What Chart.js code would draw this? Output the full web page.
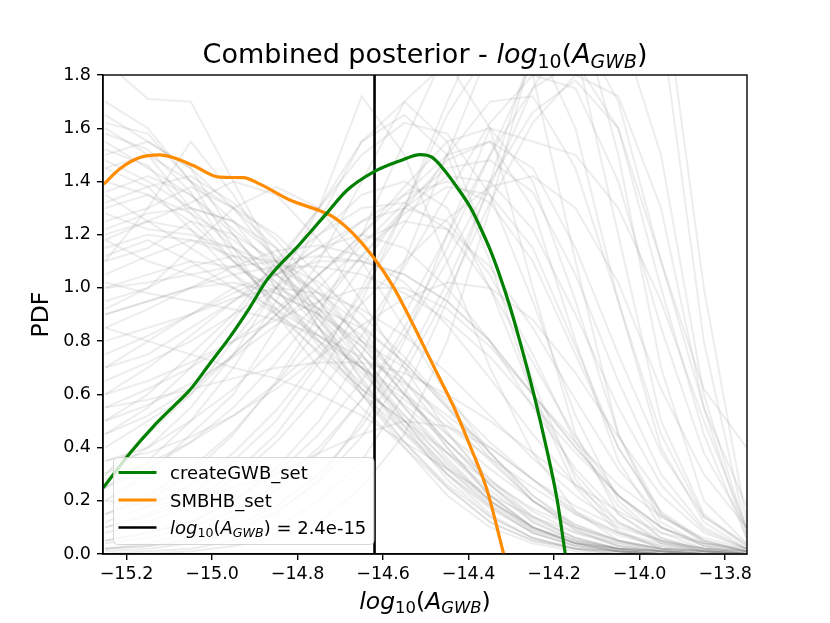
<!DOCTYPE html>
<html>
<head>
<meta charset="utf-8">
<script src="https://cdn.jsdelivr.net/npm/chart.js@4/dist/chart.umd.min.js"></script>
<style>
  html, body { margin: 0; padding: 0; background: #fff; }
  canvas { display: block; }
</style>
</head>
<body>
<canvas id="posterior" width="830" height="623"></canvas>
<script>
// x grid shared by the individual (gray) posteriors
const xGrid = [-15.25, -15.15, -15.05, -14.95, -14.85, -14.75, -14.65, -14.55,
               -14.45, -14.35, -14.25, -14.15, -14.05, -13.95, -13.85, -13.75];

// individual pulsar-set posteriors
const grayCurves = [
  [1.55, 1.45, 1.35, 1.20, 1.00, 0.80, 0.60, 0.42, 0.25, 0.12, 0.05, 0.02, 0.01, 0, 0, 0],
  [1.30, 1.35, 1.25, 1.10, 0.95, 0.85, 0.70, 0.50, 0.32, 0.18, 0.08, 0.03, 0.01, 0, 0, 0],
  [1.20, 1.25, 1.22, 1.10, 0.98, 0.90, 0.78, 0.60, 0.40, 0.22, 0.10, 0.04, 0.02, 0.01, 0, 0],
  [1.70, 1.60, 1.40, 1.15, 0.90, 0.70, 0.55, 0.40, 0.25, 0.12, 0.05, 0.02, 0, 0, 0, 0],
  [1.85, 1.71, 1.70, 1.40, 1.10, 0.85, 0.60, 0.40, 0.22, 0.10, 0.04, 0.01, 0, 0, 0, 0],
  [1.45, 1.50, 1.40, 1.30, 1.15, 0.95, 0.72, 0.50, 0.30, 0.15, 0.06, 0.02, 0.01, 0, 0, 0],
  [1.15, 1.20, 1.18, 1.12, 1.05, 0.95, 0.82, 0.65, 0.45, 0.28, 0.14, 0.06, 0.02, 0.01, 0, 0],
  [1.00, 1.05, 1.10, 1.08, 1.00, 0.92, 0.85, 0.72, 0.55, 0.36, 0.20, 0.09, 0.03, 0.01, 0, 0],
  [1.60, 1.50, 1.30, 1.25, 1.15, 0.90, 0.65, 0.45, 0.30, 0.18, 0.08, 0.03, 0.01, 0, 0, 0],
  [1.25, 1.30, 1.38, 1.30, 1.20, 1.05, 0.85, 0.62, 0.40, 0.22, 0.10, 0.04, 0.01, 0, 0, 0],
  [0.90, 0.95, 1.00, 1.02, 0.98, 0.90, 0.80, 0.70, 0.58, 0.42, 0.28, 0.15, 0.07, 0.03, 0.01, 0],
  [1.35, 1.25, 1.15, 1.05, 0.95, 0.82, 0.70, 0.56, 0.42, 0.28, 0.16, 0.08, 0.03, 0.01, 0, 0],
  [1.50, 1.55, 1.45, 1.20, 1.00, 0.78, 0.62, 0.50, 0.35, 0.20, 0.10, 0.04, 0.02, 0, 0, 0],
  [1.10, 1.15, 1.25, 1.20, 1.10, 0.98, 0.80, 0.65, 0.50, 0.35, 0.20, 0.10, 0.05, 0.02, 0.01, 0],
  [1.62, 1.58, 1.40, 1.25, 1.05, 0.92, 0.75, 0.55, 0.38, 0.22, 0.10, 0.04, 0.01, 0, 0, 0],
  [1.10, 1.30, 1.55, 1.35, 1.10, 0.85, 0.62, 0.42, 0.26, 0.14, 0.06, 0.02, 0, 0, 0, 0],
  [0.30, 0.45, 0.60, 0.80, 1.00, 1.20, 1.35, 1.40, 1.30, 1.00, 0.60, 0.30, 0.12, 0.04, 0.01, 0],
  [0.50, 0.60, 0.75, 0.90, 1.10, 1.30, 1.55, 1.65, 1.50, 1.10, 0.60, 0.25, 0.08, 0.02, 0, 0],
  [0.20, 0.30, 0.45, 0.60, 0.85, 1.10, 1.40, 1.70, 1.85, 1.60, 1.00, 0.45, 0.15, 0.04, 0.01, 0],
  [0.60, 0.70, 0.82, 0.95, 1.05, 1.15, 1.20, 1.15, 1.00, 0.80, 0.55, 0.32, 0.15, 0.05, 0.02, 0],
  [0.40, 0.50, 0.60, 0.75, 0.90, 1.05, 1.20, 1.35, 1.50, 1.55, 1.30, 0.80, 0.35, 0.10, 0.03, 0],
  [0.15, 0.20, 0.30, 0.45, 0.65, 0.90, 1.20, 1.55, 1.90, 2.10, 1.80, 1.10, 0.45, 0.12, 0.03, 0],
  [0.70, 0.80, 0.90, 1.00, 1.05, 1.10, 1.10, 1.05, 0.95, 0.80, 0.60, 0.40, 0.22, 0.10, 0.04, 0.01],
  [0.10, 0.15, 0.22, 0.35, 0.50, 0.72, 1.00, 1.30, 1.65, 1.90, 1.95, 1.60, 0.95, 0.40, 0.12, 0.02],
  [0.05, 0.08, 0.12, 0.20, 0.30, 0.45, 0.65, 0.90, 1.20, 1.50, 1.75, 1.85, 1.60, 1.00, 0.45, 0.06],
  [0.80, 0.85, 0.90, 0.98, 1.05, 1.15, 1.25, 1.30, 1.25, 1.05, 0.75, 0.42, 0.18, 0.06, 0.02, 0],
  [0.35, 0.40, 0.50, 0.62, 0.78, 0.95, 1.12, 1.28, 1.38, 1.35, 1.15, 0.78, 0.40, 0.15, 0.05, 0.01],
  [0.25, 0.35, 0.50, 0.70, 0.95, 1.25, 1.55, 1.70, 1.55, 1.15, 0.65, 0.28, 0.09, 0.02, 0, 0],
  [0.55, 0.62, 0.70, 0.80, 0.92, 1.05, 1.20, 1.38, 1.55, 1.60, 1.40, 0.95, 0.45, 0.15, 0.04, 0.01],
  [0.02, 0.04, 0.08, 0.14, 0.24, 0.38, 0.58, 0.85, 1.15, 1.50, 1.85, 2.10, 2.00, 1.50, 0.60, 0.08],
  [0.02, 0.03, 0.06, 0.10, 0.18, 0.30, 0.48, 0.72, 1.02, 1.38, 1.75, 2.00, 1.70, 1.10, 0.62, 0.40],
  [0.90, 0.95, 1.00, 1.05, 1.08, 1.08, 1.05, 0.98, 0.88, 0.74, 0.56, 0.38, 0.22, 0.10, 0.04, 0.01],
  [0.45, 0.55, 0.70, 0.88, 1.08, 1.30, 1.50, 1.62, 1.58, 1.35, 0.95, 0.52, 0.20, 0.06, 0.01, 0],
  [0.10, 0.14, 0.20, 0.30, 0.45, 0.66, 0.95, 1.30, 1.70, 2.05, 2.20, 1.90, 1.20, 0.50, 0.15, 0.03],
  [0.65, 0.72, 0.80, 0.90, 1.00, 1.12, 1.25, 1.35, 1.40, 1.32, 1.10, 0.75, 0.40, 0.16, 0.05, 0.01],
  [1.00, 1.02, 1.05, 1.08, 1.10, 1.12, 1.10, 1.05, 0.95, 0.80, 0.60, 0.40, 0.22, 0.10, 0.03, 0.01],
  [0.30, 0.40, 0.55, 0.75, 1.00, 1.30, 1.72, 1.50, 1.10, 0.70, 0.38, 0.16, 0.05, 0.01, 0, 0],
  [0.00, 0.01, 0.02, 0.05, 0.10, 0.20, 0.35, 0.60, 0.95, 1.40, 1.90, 2.40, 2.60, 2.00, 0.80, 0.08],
  [0.01, 0.02, 0.04, 0.08, 0.15, 0.28, 0.50, 0.80, 1.20, 1.60, 1.55, 1.50, 1.30, 0.95, 0.50, 0.10],
  [0.00, 0.00, 0.01, 0.03, 0.06, 0.12, 0.25, 0.45, 0.80, 1.30, 1.90, 2.50, 2.80, 2.20, 1.00, 0.12],
  [0.05, 0.08, 0.12, 0.20, 0.32, 0.50, 0.75, 1.10, 1.50, 1.90, 2.20, 2.10, 1.50, 0.70, 0.20, 0.04],
  [0.85, 0.80, 0.75, 0.70, 0.66, 0.60, 0.52, 0.42, 0.32, 0.22, 0.14, 0.08, 0.04, 0.02, 0.01, 0],
  [0.20, 0.18, 0.20, 0.25, 0.30, 0.38, 0.45, 0.50, 0.48, 0.40, 0.28, 0.16, 0.08, 0.03, 0.01, 0],
  [1.40, 1.35, 1.28, 1.18, 1.05, 0.90, 0.72, 0.52, 0.34, 0.20, 0.10, 0.05, 0.02, 0.01, 0, 0],
  [1.22, 1.28, 1.30, 1.25, 1.12, 0.95, 0.75, 0.55, 0.36, 0.20, 0.09, 0.04, 0.01, 0, 0, 0],
  [1.48, 1.40, 1.30, 1.15, 1.02, 0.88, 0.70, 0.48, 0.28, 0.14, 0.06, 0.02, 0.01, 0, 0, 0],
  [1.05, 1.12, 1.18, 1.15, 1.08, 0.98, 0.86, 0.72, 0.55, 0.38, 0.22, 0.11, 0.05, 0.02, 0.01, 0],
  [1.58, 1.52, 1.36, 1.12, 0.92, 0.75, 0.60, 0.46, 0.32, 0.19, 0.09, 0.04, 0.02, 0.01, 0, 0],
  [1.28, 1.22, 1.20, 1.15, 1.02, 0.85, 0.68, 0.52, 0.38, 0.24, 0.12, 0.05, 0.02, 0, 0, 0],
  [0.95, 1.00, 1.08, 1.12, 1.10, 1.02, 0.90, 0.74, 0.56, 0.38, 0.22, 0.10, 0.04, 0.01, 0, 0],
  [1.36, 1.42, 1.35, 1.22, 1.08, 0.92, 0.78, 0.60, 0.42, 0.26, 0.13, 0.06, 0.02, 0.01, 0, 0],
  [1.18, 1.10, 1.05, 1.00, 0.92, 0.82, 0.70, 0.58, 0.45, 0.32, 0.20, 0.11, 0.05, 0.02, 0.01, 0],
  [1.52, 1.46, 1.28, 1.10, 0.95, 0.80, 0.64, 0.48, 0.33, 0.20, 0.10, 0.04, 0.01, 0, 0, 0],
  [0.75, 0.82, 0.90, 0.96, 1.00, 0.98, 0.92, 0.82, 0.68, 0.52, 0.36, 0.22, 0.11, 0.05, 0.02, 0.01],
  [0.60, 0.65, 0.72, 0.80, 0.88, 0.95, 1.00, 1.00, 0.92, 0.78, 0.60, 0.42, 0.26, 0.14, 0.06, 0.02],
  [0.45, 0.52, 0.62, 0.75, 0.90, 1.05, 1.18, 1.25, 1.22, 1.08, 0.85, 0.58, 0.32, 0.14, 0.05, 0.01],
  [0.25, 0.32, 0.42, 0.55, 0.72, 0.92, 1.12, 1.30, 1.42, 1.40, 1.22, 0.90, 0.55, 0.26, 0.09, 0.02],
  [0.70, 0.75, 0.85, 0.95, 1.08, 1.20, 1.30, 1.32, 1.22, 1.00, 0.72, 0.44, 0.22, 0.08, 0.02, 0],
  [0.15, 0.22, 0.32, 0.46, 0.64, 0.85, 1.08, 1.30, 1.48, 1.55, 1.45, 1.15, 0.75, 0.38, 0.14, 0.04],
  [0.08, 0.12, 0.18, 0.28, 0.42, 0.60, 0.82, 1.08, 1.35, 1.62, 1.80, 1.75, 1.40, 0.85, 0.38, 0.10],
  [0.50, 0.56, 0.64, 0.74, 0.86, 1.00, 1.16, 1.32, 1.45, 1.48, 1.36, 1.05, 0.65, 0.30, 0.10, 0.02],
  [1.12, 1.18, 1.10, 1.00, 0.90, 0.80, 0.70, 0.60, 0.48, 0.36, 0.25, 0.15, 0.08, 0.04, 0.02, 0.01],
  [0.85, 0.92, 1.00, 1.08, 1.14, 1.16, 1.12, 1.02, 0.86, 0.66, 0.45, 0.26, 0.12, 0.05, 0.01, 0],
  [1.65, 1.55, 1.45, 1.30, 1.10, 0.88, 0.66, 0.46, 0.30, 0.17, 0.08, 0.03, 0.01, 0, 0, 0],
  [1.32, 1.38, 1.42, 1.32, 1.18, 1.00, 0.80, 0.60, 0.42, 0.26, 0.14, 0.06, 0.02, 0.01, 0, 0],
  [0.35, 0.38, 0.44, 0.52, 0.62, 0.74, 0.86, 0.96, 1.02, 1.00, 0.88, 0.68, 0.44, 0.22, 0.08, 0.02],
  [0.12, 0.18, 0.26, 0.38, 0.54, 0.74, 0.98, 1.24, 1.50, 1.70, 1.72, 1.45, 0.95, 0.45, 0.14, 0.03],
  [0.02, 0.03, 0.05, 0.09, 0.16, 0.27, 0.44, 0.68, 0.98, 1.32, 1.62, 1.80, 1.72, 1.30, 0.55, 0.06],
  [1.02, 0.98, 0.95, 0.92, 0.88, 0.82, 0.74, 0.64, 0.52, 0.40, 0.28, 0.18, 0.10, 0.05, 0.02, 0.01],
  [0.92, 1.00, 1.15, 1.30, 1.38, 1.30, 1.10, 0.85, 0.60, 0.38, 0.20, 0.09, 0.03, 0.01, 0, 0],
  [1.18, 1.25, 1.32, 1.40, 1.35, 1.18, 0.95, 0.70, 0.46, 0.26, 0.12, 0.05, 0.02, 0, 0, 0],
  [0.55, 0.58, 0.62, 0.66, 0.70, 0.72, 0.72, 0.68, 0.60, 0.50, 0.38, 0.26, 0.16, 0.08, 0.04, 0.02],
  [0.28, 0.34, 0.42, 0.52, 0.64, 0.78, 0.94, 1.10, 1.26, 1.38, 1.42, 1.30, 1.02, 0.62, 0.30, 0.10],
  [0.04, 0.06, 0.10, 0.16, 0.26, 0.40, 0.58, 0.82, 1.10, 1.40, 1.66, 1.78, 1.60, 1.10, 0.55, 0.18],
  [1.45, 1.38, 1.22, 1.05, 0.90, 0.76, 0.62, 0.50, 0.38, 0.27, 0.17, 0.10, 0.05, 0.02, 0.01, 0]
];

// combined posteriors
const gwbX = [-15.255, -15.192, -15.138, -15.083, -15.052, -15.005, -14.958, -14.911, -14.872,
              -14.794, -14.732, -14.685, -14.623, -14.560, -14.513, -14.486, -14.459, -14.427,
              -14.396, -14.373, -14.349, -14.326, -14.303, -14.283, -14.248, -14.217, -14.193,
              -14.174];
const gwbY = [0.248, 0.379, 0.478, 0.566, 0.616, 0.716, 0.816, 0.928, 1.029,
              1.166, 1.28, 1.366, 1.435, 1.478, 1.501, 1.491, 1.447, 1.378,
              1.303, 1.228, 1.141, 1.041, 0.928, 0.816, 0.604, 0.391, 0.204,
              0.0];

const smbhbX = [-15.253, -15.216, -15.169, -15.122, -15.091, -15.044, -14.982, -14.927, -14.888,
                -14.818, -14.748, -14.716, -14.670, -14.623, -14.576, -14.537, -14.474, -14.435,
                -14.396, -14.357, -14.318];
const smbhbY = [1.39, 1.447, 1.49, 1.50, 1.49, 1.46, 1.416, 1.414, 1.39,
                1.33, 1.29, 1.266, 1.204, 1.116, 1.004, 0.885, 0.68, 0.554,
                0.404, 0.241, 0.0];

// injected value: log10(2.4e-15)
const injectedLog10A = -14.62;

const xTicks = [-15.2, -15.0, -14.8, -14.6, -14.4, -14.2, -14.0, -13.8];
const yTicks = [0, 0.2, 0.4, 0.6, 0.8, 1.0, 1.2, 1.4, 1.6, 1.8];

const FONT = '"DejaVu Sans", sans-serif';
Chart.defaults.font.family = FONT;
Chart.defaults.color = '#000';

const pts = (xs, ys) => xs.map((x, i) => ({ x: x, y: ys[i] }));

const datasets = [
  { label: 'createGWB_set', data: pts(gwbX, gwbY), borderColor: 'green',
    borderWidth: 3.2, cubicInterpolationMode: 'monotone', order: 1 },
  { label: 'SMBHB_set', data: pts(smbhbX, smbhbY), borderColor: 'darkorange',
    borderWidth: 3.2, cubicInterpolationMode: 'monotone', order: 2 },
  { label: 'injected', data: [{ x: injectedLog10A, y: 0 }, { x: injectedLog10A, y: 1.8 }],
    borderColor: '#000', borderWidth: 2.6, order: 3 }
];
grayCurves.forEach((c, i) => {
  datasets.push({ label: 'psr' + i, data: pts(xGrid, c), borderColor: 'rgba(128,128,128,0.14)',
    borderWidth: 2, tension: 0, order: 10 });
});

// draw mixed regular / italic / subscript text like matplotlib mathtext
function richText(ctx, parts, x, y, size, align) {
  const fontOf = p => (p.i ? 'italic ' : '') + (p.s ? size * 0.7 : size) + 'px ' + FONT;
  let w = 0;
  parts.forEach(p => { ctx.font = fontOf(p); p.w = ctx.measureText(p.t).width; w += p.w; });
  let cx = align === 'center' ? x - w / 2 : x;
  ctx.textAlign = 'left';
  ctx.textBaseline = 'alphabetic';
  parts.forEach(p => {
    ctx.font = fontOf(p);
    ctx.fillText(p.t, cx, y + (p.s ? size * 0.17 : 0));
    cx += p.w;
  });
}
const mathA = () => [
  { t: 'log', i: true }, { t: '10', s: true }, { t: '(' },
  { t: 'A', i: true }, { t: 'GWB', i: true, s: true }, { t: ')' }
];

const decor = {
  id: 'decor',
  afterDraw(chart) {
    const ctx = chart.ctx;
    const a = chart.chartArea;
    ctx.save();
    // spines
    ctx.strokeStyle = '#000';
    ctx.lineWidth = 1.4;
    ctx.strokeRect(a.left, a.top, a.right - a.left, a.bottom - a.top);

    ctx.fillStyle = '#000';
    const cx = (a.left + a.right) / 2;
    richText(ctx, [{ t: 'Combined posterior - ' }].concat(mathA()), cx, 63, 27, 'center');
    richText(ctx, mathA(), cx, 609, 23.5, 'center');

    ctx.save();
    ctx.translate(42, (a.top + a.bottom) / 2);
    ctx.rotate(-Math.PI / 2);
    ctx.font = '23.5px ' + FONT;
    ctx.textAlign = 'center';
    ctx.textBaseline = 'middle';
    ctx.fillText('PDF', 0, 0);
    ctx.restore();

    // legend
    const lx = 113.5, ly = 457.5, lw = 260.5, lh = 87;
    ctx.beginPath();
    ctx.roundRect(lx, ly, lw, lh, 4);
    ctx.fillStyle = 'rgba(255,255,255,0.8)';
    ctx.fill();
    ctx.strokeStyle = 'rgba(204,204,204,0.8)';
    ctx.lineWidth = 1;
    ctx.stroke();
    const rows = [
      { c: 'green', w: 3.2, parts: [{ t: 'createGWB_set' }] },
      { c: 'darkorange', w: 3.2, parts: [{ t: 'SMBHB_set' }] },
      { c: '#000', w: 2.6, parts: mathA().concat([{ t: ' = 2.4e-15' }]) }
    ];
    rows.forEach((r, i) => {
      const ry = 472.5 + i * 27.5;
      ctx.beginPath();
      ctx.moveTo(118.5, ry);
      ctx.lineTo(156.5, ry);
      ctx.strokeStyle = r.c;
      ctx.lineWidth = r.w;
      ctx.stroke();
      ctx.fillStyle = '#000';
      richText(ctx, r.parts, 170, ry + 6.5, 18, 'left');
    });
    ctx.restore();
  }
};

const fmt = v => (v < 0 ? '\u2212' : '') + Math.abs(v).toFixed(1);

new Chart(document.getElementById('posterior'), {
  type: 'line',
  data: { datasets: datasets },
  options: {
    responsive: false,
    animation: false,
    devicePixelRatio: 1,
    elements: { point: { radius: 0 } },
    layout: { padding: { left: 0, top: 75, right: 83, bottom: 0 } },
    plugins: { legend: { display: false }, title: { display: false }, tooltip: { enabled: false } },
    scales: {
      x: {
        type: 'linear',
        min: -15.255,
        max: -13.749,
        afterFit: s => { s.height = 69; },
        afterBuildTicks: s => { s.ticks = xTicks.map(v => ({ value: v })); },
        grid: { drawOnChartArea: false, drawTicks: true, tickLength: 6, color: '#000', lineWidth: 1.4 },
        border: { display: true, color: '#000', width: 1.4 },
        ticks: { callback: fmt, font: { size: 17.5 }, color: '#000', padding: 4, maxRotation: 0 }
      },
      y: {
        type: 'linear',
        min: 0,
        max: 1.8,
        afterFit: s => { s.width = 103; },
        afterBuildTicks: s => { s.ticks = yTicks.map(v => ({ value: v })); },
        grid: { drawOnChartArea: false, drawTicks: true, tickLength: 6, color: '#000', lineWidth: 1.4 },
        border: { display: true, color: '#000', width: 1.4 },
        ticks: { callback: v => v.toFixed(1), font: { size: 17.5 }, color: '#000', padding: 6 }
      }
    }
  },
  plugins: [decor]
});
</script>
</body>
</html>
